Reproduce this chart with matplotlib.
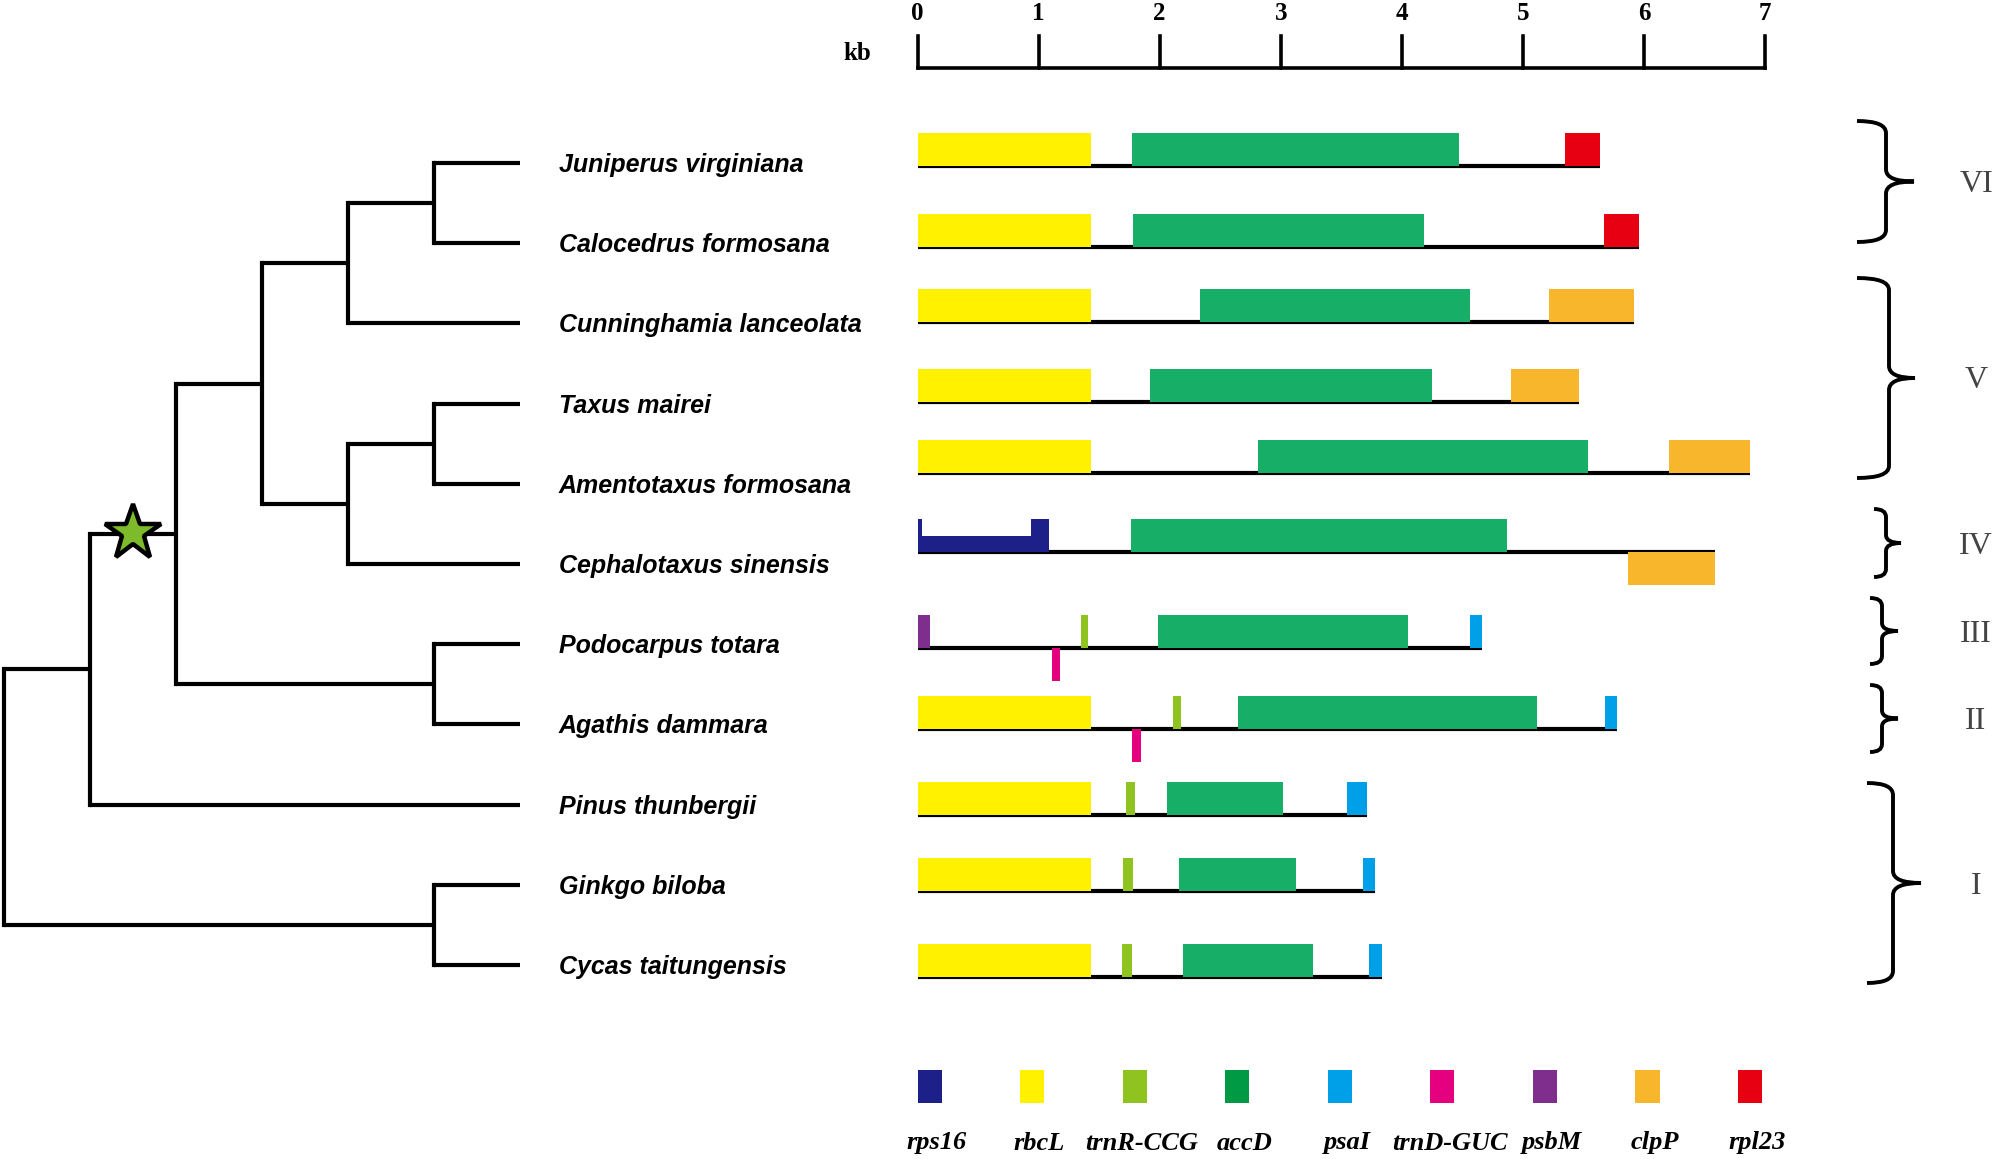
import matplotlib
matplotlib.use('Agg')
import matplotlib.pyplot as plt
from matplotlib.path import Path
from matplotlib.patches import PathPatch, Rectangle

# ---------------------------------------------------------------
# Data
# ---------------------------------------------------------------
species = [
    'Juniperus virginiana', 'Calocedrus formosana', 'Cunninghamia lanceolata',
    'Taxus mairei', 'Amentotaxus formosana', 'Cephalotaxus sinensis',
    'Podocarpus totara', 'Agathis dammara', 'Pinus thunbergii',
    'Ginkgo biloba', 'Cycas taitungensis',
]

# cladogram topology (tip names nested in tuples)
tree = ((((((species[0], species[1]), species[2]),
           ((species[3], species[4]), species[5])),
          (species[6], species[7])),
         species[8]),
        (species[9], species[10]))

gene_names = ['rps16', 'rbcL', 'trnR-CCG', 'accD', 'psaI',
              'trnD-GUC', 'psbM', 'clpP', 'rpl23']
gene_colors = {
    'rps16': '#1d2088', 'rbcL': '#fff100', 'trnR-CCG': '#8fc31f',
    'accD': '#17ae67', 'psaI': '#00a0e9', 'trnD-GUC': '#e4007f',
    'psbM': '#7f2e8e', 'clpP': '#f8b62d', 'rpl23': '#e60012',
}
legend_colors = dict(gene_colors, accD='#009944')

# region length (kb) for each species
region_len = [5.64, 5.96, 5.92, 5.46, 6.88, 6.59, 4.66, 5.78, 3.71, 3.78, 3.84]

# genes: (name, start kb, end kb, side) side: 1 above, -1 below, 0.5 half-height above
genes = [
    [('rbcL', 0.00, 1.43, 1), ('accD', 1.77, 4.47, 1), ('rpl23', 5.35, 5.64, 1)],
    [('rbcL', 0.00, 1.43, 1), ('accD', 1.78, 4.18, 1), ('rpl23', 5.67, 5.96, 1)],
    [('rbcL', 0.00, 1.43, 1), ('accD', 2.33, 4.56, 1), ('clpP', 5.22, 5.92, 1)],
    [('rbcL', 0.00, 1.43, 1), ('accD', 1.92, 4.25, 1), ('clpP', 4.90, 5.46, 1)],
    [('rbcL', 0.00, 1.43, 1), ('accD', 2.81, 5.54, 1), ('clpP', 6.21, 6.88, 1)],
    [('rps16', 0.00, 1.09, 0.5), ('rps16', 0.00, 0.04, 1), ('rps16', 0.94, 1.09, 1),
     ('accD', 1.76, 4.87, 1), ('clpP', 5.87, 6.59, -1)],
    [('psbM', 0.00, 0.10, 1), ('trnD-GUC', 1.11, 1.18, -1), ('trnR-CCG', 1.35, 1.41, 1),
     ('accD', 1.99, 4.05, 1), ('psaI', 4.56, 4.66, 1)],
    [('rbcL', 0.00, 1.43, 1), ('trnD-GUC', 1.77, 1.85, -1), ('trnR-CCG', 2.11, 2.18, 1),
     ('accD', 2.65, 5.12, 1), ('psaI', 5.68, 5.78, 1)],
    [('rbcL', 0.00, 1.43, 1), ('trnR-CCG', 1.72, 1.80, 1), ('accD', 2.06, 3.02, 1),
     ('psaI', 3.55, 3.71, 1)],
    [('rbcL', 0.00, 1.43, 1), ('trnR-CCG', 1.70, 1.78, 1), ('accD', 2.16, 3.13, 1),
     ('psaI', 3.68, 3.78, 1)],
    [('rbcL', 0.00, 1.43, 1), ('trnR-CCG', 1.69, 1.77, 1), ('accD', 2.19, 3.27, 1),
     ('psaI', 3.73, 3.84, 1)],
]

# groups: (label, first row, last row)
groups = [('VI', 0, 1), ('V', 2, 4), ('IV', 5, 5), ('III', 6, 6), ('II', 7, 7), ('I', 8, 10)]

kb_ticks = [0, 1, 2, 3, 4, 5, 6, 7]

# ---------------------------------------------------------------
# Layout (pixels, y from top)
# ---------------------------------------------------------------
W, H = 2000, 1159
tip_y0, tip_dy = 163, 80.2
level_x0, level_dx = 4, 86.0
tip_level = 6
label_x = 559
row_base = [166, 247, 322, 402, 473, 552, 648, 729, 815, 891, 977]
box_h = 33
kb_left, kb_right = 917.5, 1765.0

fig = plt.figure(figsize=(W / 100, H / 100), dpi=100)
ax = fig.add_axes([0, 0, 1, 1])
ax.set_xlim(0, W)
ax.set_ylim(H, 0)
ax.axis('off')

gx = fig.add_axes([kb_left / W, 0, (kb_right - kb_left) / W, 1])
gx.set_xlim(0, 7)
gx.set_ylim(H, 0)
gx.axis('off')
gx.patch.set_alpha(0)

lw_tree = 3.0
tip_y = {s: tip_y0 + tip_dy * i for i, s in enumerate(species)}


def height(node):
    if isinstance(node, str):
        return 0
    return 1 + max(height(c) for c in node)


def draw(node):
    """draw a clade, return (x, y) of its node"""
    if isinstance(node, str):
        return level_x0 + level_dx * tip_level, tip_y[node]
    x = level_x0 + level_dx * (tip_level - height(node))
    pts = [draw(c) for c in node]
    ys = [p[1] for p in pts]
    ax.plot([x, x], [min(ys), max(ys)], color='black', lw=lw_tree, solid_capstyle='projecting')
    for cx, cy in pts:
        ax.plot([x, cx], [cy, cy], color='black', lw=lw_tree, solid_capstyle='butt')
    return x, (min(ys) + max(ys)) / 2


draw(tree)
# star on the branch leading to conifers
ax.plot(133, 533, marker='*', ms=42, mfc='#7dbb2b', mec='black', mew=3.2, zorder=5)

for s in species:
    ax.text(label_x, tip_y[s] + 2, s, fontsize=18, fontweight='bold', fontstyle='italic',
            family='Liberation Sans', ha='left', va='center')

# ---------------------------------------------------------------
# Scale bar
# ---------------------------------------------------------------
bar_y, tick_top = 68, 36
gx.plot([kb_ticks[0], kb_ticks[-1]], [bar_y, bar_y], color='black', lw=2.6,
        solid_capstyle='projecting', clip_on=False)
for t in kb_ticks:
    gx.plot([t, t], [tick_top, bar_y], color='black', lw=2.6, clip_on=False)
    gx.text(t, 14, str(t), fontsize=18, fontweight='bold', family='Liberation Serif',
            ha='center', va='center')
ax.text(857, 54, 'kb', fontsize=18, fontweight='bold', family='Liberation Serif',
        ha='center', va='center')

# ---------------------------------------------------------------
# Gene maps
# ---------------------------------------------------------------
for i, row in enumerate(genes):
    yb = row_base[i]
    gx.plot([0, region_len[i]], [yb, yb], color='black', lw=3.0, zorder=1,
            solid_capstyle='butt', clip_on=False)
    for name, start, end, side in row:
        if side == -1:
            y0, h = yb, box_h
        elif side == 0.5:
            y0, h = yb - box_h * 0.5, box_h * 0.5
        else:
            y0, h = yb - box_h, box_h
        gx.add_patch(Rectangle((start, y0), end - start, h, facecolor=gene_colors[name],
                               edgecolor='none', zorder=2, clip_on=False))

# ---------------------------------------------------------------
# Braces and group labels
# ---------------------------------------------------------------
def brace(x_left, x_v, x_tip, y_top, y_bot, r=12):
    y_mid = (y_top + y_bot) / 2
    verts = [(x_left, y_top), (x_v, y_top), (x_v, y_top + r),
             (x_v, y_mid - r), (x_v, y_mid), (x_tip, y_mid),
             (x_v, y_mid), (x_v, y_mid + r),
             (x_v, y_bot - r), (x_v, y_bot), (x_left, y_bot)]
    codes = [Path.MOVETO, Path.CURVE3, Path.CURVE3,
             Path.LINETO, Path.CURVE3, Path.CURVE3,
             Path.CURVE3, Path.CURVE3,
             Path.LINETO, Path.CURVE3, Path.CURVE3]
    ax.add_patch(PathPatch(Path(verts, codes), facecolor='none', edgecolor='black',
                           lw=2.8, capstyle='butt', joinstyle='miter'))


brace_span = {
    'VI': (1857, 1886, 1914, 121, 242),
    'V': (1857, 1889, 1915, 278, 478),
    'IV': (1874, 1886, 1901, 509, 577),
    'III': (1870, 1882, 1898, 598, 664),
    'II': (1870, 1882, 1898, 685, 752),
    'I': (1867, 1893, 1921, 783, 983),
}
for label, r0, r1 in groups:
    xl, xv, xt, yt, yb = brace_span[label]
    brace(xl, xv, xt, yt, yb, r=12 if (yb - yt) > 100 else 8)
    ax.text(1976, (yt + yb) / 2 + 3, label, fontsize=23, family='Liberation Serif',
            color='#444444', ha='center', va='center')

# ---------------------------------------------------------------
# Legend
# ---------------------------------------------------------------
leg_dx, leg_w = 0.847, 0.2
for j, name in enumerate(gene_names):
    x0 = j * leg_dx
    gx.add_patch(Rectangle((x0, 1070), leg_w, 33, facecolor=legend_colors[name],
                           edgecolor='none', clip_on=False))
    gx.text(x0 + leg_w / 2 + 0.06, 1143, name, fontsize=19, fontweight='bold',
            fontstyle='italic', family='Liberation Serif', ha='center', va='center')

fig.savefig('out.png', dpi=100, facecolor='white')
